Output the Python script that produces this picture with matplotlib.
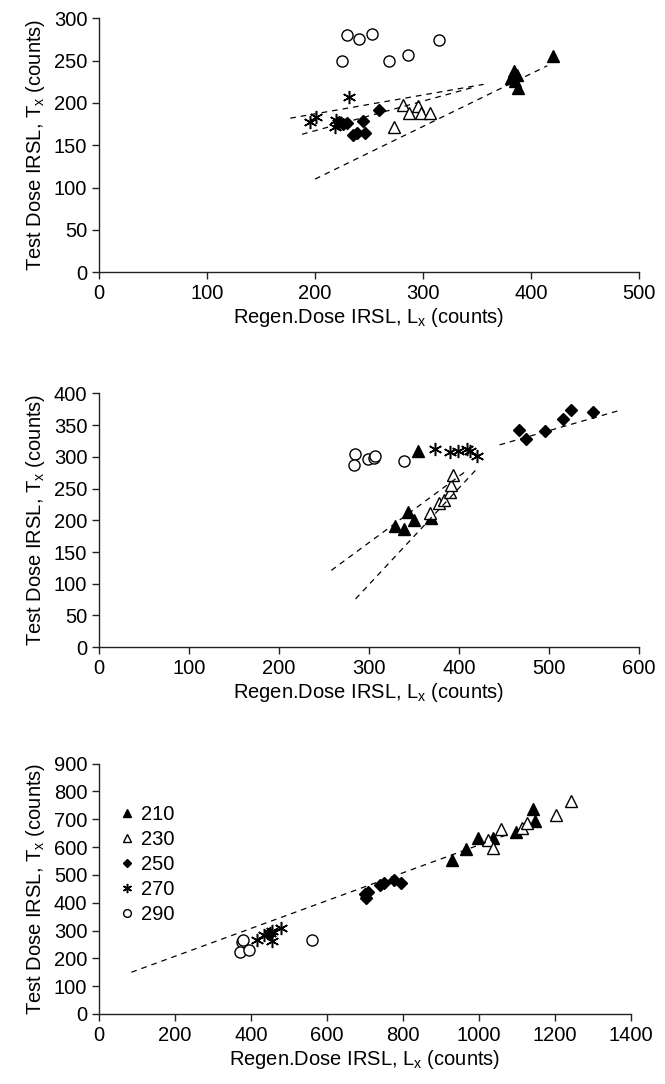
import numpy as np
import matplotlib
matplotlib.use('Agg')
import matplotlib.pyplot as plt

plt.rcParams['font.family'] = ['Liberation Sans', 'DejaVu Sans']

# legend labels (preheat temperatures)
labels = ['210', '230', '250', '270', '290']

# --- panel 1 ---
p1_210_x = [381, 384, 385, 387, 388, 420]
p1_210_y = [230, 238, 226, 233, 218, 256]
p1_230_x = [273, 281, 287, 295, 298, 306]
p1_230_y = [172, 198, 188, 197, 188, 188]
p1_250_x = [222, 226, 230, 235, 239, 244, 246, 259]
p1_250_y = [177, 175, 176, 162, 165, 179, 164, 192]
p1_270_x = [195, 201, 218, 219, 221, 231]
p1_270_y = [178, 183, 172, 180, 176, 207]
p1_290_x = [225, 230, 241, 253, 268, 286, 315]
p1_290_y = [250, 280, 276, 282, 250, 257, 275]
p1_lines = [([177, 356], [182, 222]), ([188, 345], [163, 218]), ([200, 415], [110, 244])]

# --- panel 2 ---
p2_210_x = [329, 339, 343, 350, 354, 369]
p2_210_y = [191, 187, 213, 201, 310, 203]
p2_230_x = [368, 378, 383, 390, 391, 393]
p2_230_y = [211, 228, 232, 245, 255, 271]
p2_250_x = [467, 474, 496, 516, 524, 549]
p2_250_y = [342, 329, 341, 360, 374, 371]
p2_270_x = [373, 390, 399, 409, 412, 420]
p2_270_y = [312, 307, 310, 312, 309, 301]
p2_290_x = [284, 283, 299, 305, 307, 339]
p2_290_y = [305, 288, 296, 299, 301, 293]
p2_lines = [([445, 580], [319, 374]), ([258, 410], [121, 280]), ([285, 421], [76, 283])]

# --- panel 3 ---
p3_210_x = [929, 966, 997, 1037, 1097, 1142, 1147]
p3_210_y = [554, 594, 634, 634, 655, 738, 695]
p3_230_x = [1024, 1037, 1058, 1113, 1126, 1203, 1242]
p3_230_y = [626, 598, 666, 670, 688, 716, 767]
p3_250_x = [448, 700, 703, 708, 740, 750, 775, 795]
p3_250_y = [288, 430, 418, 440, 462, 472, 482, 472]
p3_270_x = [415, 435, 450, 455, 455, 478]
p3_270_y = [265, 283, 290, 300, 262, 310]
p3_290_x = [375, 378, 372, 395, 560]
p3_290_y = [257, 265, 222, 230, 266]
p3_lines = [([85, 1075], [150, 645])]

styles = [
    dict(marker='^', mfc='black', mec='black', ms=8.5),
    dict(marker='^', mfc='white', mec='black', ms=8.5, mew=1),
    dict(marker='D', mfc='black', mec='black', ms=6.5),
    dict(marker=(6, 2, 0), mfc='black', mec='black', ms=9.5, mew=1.1),
    dict(marker='o', mfc='white', mec='black', ms=8, mew=1),
]


def draw(ax, series, lines, xmax, xstep, ymax, ystep):
    for (xs, ys), st, lab in zip(series, styles, labels):
        ax.plot(xs, ys, ls='none', label=lab, **st)
    for lx, ly in lines:
        ax.plot(lx, ly, color='black', lw=0.9, dashes=(4.5, 4))
    ax.set_xlim(0, xmax)
    ax.set_ylim(0, ymax)
    ax.set_xticks(np.arange(0, xmax + 1, xstep))
    ax.set_yticks(np.arange(0, ymax + 1, ystep))
    for s in ['top', 'right']:
        ax.spines[s].set_visible(False)
    for s in ['left', 'bottom']:
        ax.spines[s].set_linewidth(1.0)
        ax.spines[s].set_color('#222222')
    ax.tick_params(direction='out', length=5, width=1, labelsize=14.5, color='#222222')
    ax.set_xlabel(r'Regen.Dose IRSL, L$_\mathregular{x}$ (counts)', fontsize=14.5, labelpad=2)
    ax.set_ylabel(r'Test Dose IRSL, T$_\mathregular{x}$ (counts)', fontsize=14.5, labelpad=5)


fig = plt.figure(figsize=(6.65, 10.84), dpi=100)

ax1 = fig.add_axes([0.149, 0.749, 0.812, 0.234])
draw(ax1, [(p1_210_x, p1_210_y), (p1_230_x, p1_230_y), (p1_250_x, p1_250_y),
           (p1_270_x, p1_270_y), (p1_290_x, p1_290_y)], p1_lines, 500, 100, 300, 50)

ax2 = fig.add_axes([0.149, 0.403, 0.812, 0.234])
draw(ax2, [(p2_210_x, p2_210_y), (p2_230_x, p2_230_y), (p2_250_x, p2_250_y),
           (p2_270_x, p2_270_y), (p2_290_x, p2_290_y)], p2_lines, 600, 100, 400, 50)

ax3 = fig.add_axes([0.149, 0.0646, 0.80, 0.231])
draw(ax3, [(p3_210_x, p3_210_y), (p3_230_x, p3_230_y), (p3_250_x, p3_250_y),
           (p3_270_x, p3_270_y), (p3_290_x, p3_290_y)], p3_lines, 1400, 200, 900, 100)
ax3.legend(loc='upper left', bbox_to_anchor=(0.01, 0.89), frameon=False, fontsize=14.5,
           markerscale=0.7, handlelength=0.8, handletextpad=0.3, labelspacing=0.3,
           borderaxespad=0.3)

fig.savefig('out.png', dpi=100)
